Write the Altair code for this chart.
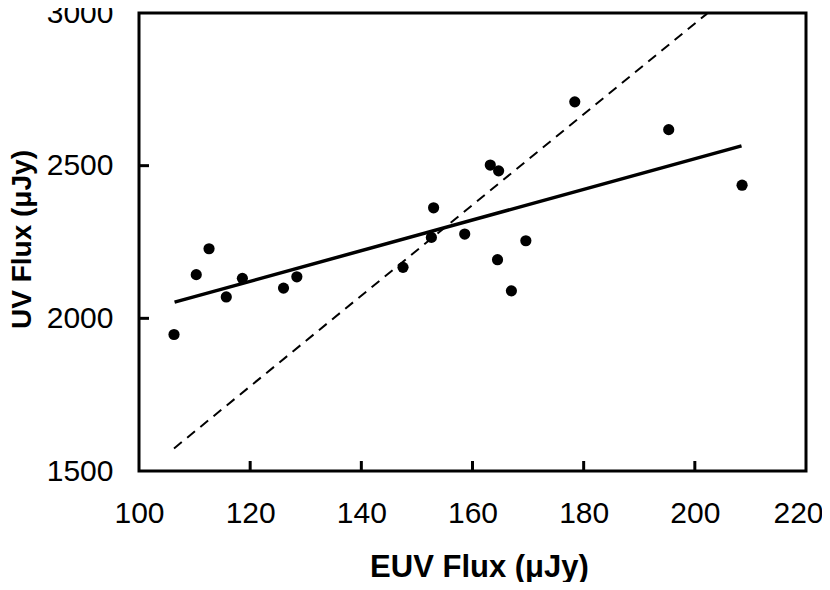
import altair as alt
import pandas as pd

# Observed points
euv = [106.3, 110.3, 112.6, 115.7, 118.6, 126.0, 128.4, 147.5, 152.6, 153.0,
       158.6, 163.2, 164.7, 164.5, 167.0, 169.6, 178.4, 195.3, 208.5]
uv = [1947, 2143, 2228, 2070, 2131, 2099, 2136, 2167, 2265, 2362,
      2276, 2502, 2483, 2192, 2090, 2254, 2709, 2618, 2436]

# Least-squares fit (solid) endpoints
fit_x = [106.4, 208.4]
fit_y = [2053, 2565]

# Dashed reference line endpoints
ref_x = [106.3, 202.2]
ref_y = [1574, 2998]

# Tick positions
x_ticks = [100, 120, 140, 160, 180, 200, 220]
y_ticks = [1500, 2000, 2500, 3000]
x_inner_ticks = [120, 140, 160, 180, 200]
y_inner_ticks = [2000, 2500]

W, H = 667, 458
FONT = "Liberation Sans"

pts = pd.DataFrame({"x": euv, "y": uv})
fit = pd.DataFrame({"x": fit_x, "y": fit_y})
ref = pd.DataFrame({"x": ref_x, "y": ref_y})
xt = pd.DataFrame({"x": x_inner_ticks})
yt = pd.DataFrame({"y": y_inner_ticks})

xscale = alt.Scale(domain=[100, 220], nice=False, zero=False)
yscale = alt.Scale(domain=[1500, 3000], nice=False, zero=False)

xaxis = alt.Axis(
    values=x_ticks, grid=False, domain=False, ticks=False, format="d",
    labelFont=FONT, labelFontSize=30, labelColor="black", labelPadding=27,
    labelFlush=False,
    labelOffset={"expr": "datum.value == 220 ? -8 : 0"},
    title="EUV Flux (\u03bcJy)", titleFont=FONT, titleFontSize=31,
    titleFontWeight="bold", titleColor="black",
    titleX=340, titleY=96, titleBaseline="middle", titleAlign="center",
)
yaxis = alt.Axis(
    values=y_ticks, grid=False, domain=False, ticks=False, format="d",
    labelFont=FONT, labelFontSize=30, labelColor="black", labelPadding=26,
    labelFlush=False,
    title="UV Flux (\u03bcJy)", titleFont=FONT, titleFontSize=28,
    titleFontWeight="bold", titleColor="black",
    titleX=-117, titleY=226, titleAngle=270, titleBaseline="middle",
    titleAlign="center",
)

def X():
    return alt.X("x:Q", scale=xscale, axis=xaxis)

def Y():
    return alt.Y("y:Q", scale=yscale, axis=yaxis)

points = alt.Chart(pts).mark_circle(size=125, color="black", opacity=1).encode(
    x=X(), y=Y()
)
fit_line = alt.Chart(fit).mark_line(color="black", strokeWidth=3.5).encode(
    x=X(), y=Y()
)
ref_line = alt.Chart(ref).mark_line(
    color="black", strokeWidth=2, strokeDash=[10, 7]
).encode(x=X(), y=Y())

xtick_marks = alt.Chart(xt).mark_rule(color="black", strokeWidth=3).encode(
    x=X(), y=alt.value(H), y2=alt.value(H - 10)
)
ytick_marks = alt.Chart(yt).mark_rule(color="black", strokeWidth=3).encode(
    y=Y(), x=alt.value(0), x2=alt.value(10)
)

chart = alt.layer(points, fit_line, ref_line, xtick_marks, ytick_marks).properties(
    width=W, height=H,
    background="white",
    autosize=alt.AutoSizeParams(type="none"),
    padding={"left": 131, "top": 5, "right": 16, "bottom": 111},
).configure_view(
    stroke="black", strokeWidth=3
)

chart.save("out.html", embed_options={"renderer": "svg", "actions": False})
